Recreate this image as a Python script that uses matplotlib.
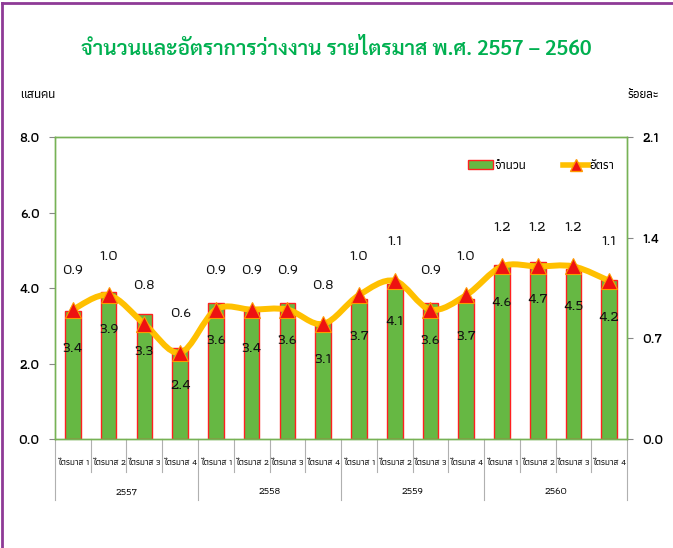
import matplotlib
matplotlib.use("Agg")
import matplotlib.pyplot as plt
import matplotlib.transforms as mtransforms
from matplotlib.lines import Line2D
from matplotlib.patches import Patch, PathPatch
from matplotlib.path import Path
import numpy as np

plt.rcParams["font.family"] = ["Sarabun", "Noto Sans Thai", "DejaVu Sans"]

# data
years = ["2557", "2558", "2559", "2560"]
quarters = ["ไตรมาส 1", "ไตรมาส 2", "ไตรมาส 3", "ไตรมาส 4"]
unemployed = [3.4, 3.9, 3.3, 2.4, 3.6, 3.4, 3.6, 3.1,
              3.7, 4.1, 3.6, 3.7, 4.6, 4.7, 4.5, 4.2]  # แสนคน
rate = [0.9, 1.0, 0.8, 0.6, 0.9, 0.9, 0.9, 0.8,
        1.0, 1.1, 0.9, 1.0, 1.2, 1.2, 1.2, 1.1]  # ร้อยละ
left_ticks = [0.0, 2.0, 4.0, 6.0, 8.0]
right_ticks = [0.0, 0.7, 1.4, 2.1]

GREEN = "#66b843"
AXIS_GREEN = "#77b255"
LINE_COL = "#ffc000"
TITLE_COL = "#00b050"
TITLE_FONT = ["Sarabun", "DejaVu Sans"]
NARROW_FONT = ["Athiti", "Sarabun", "DejaVu Sans"]

x = np.arange(len(unemployed))

fig = plt.figure(figsize=(6.73, 5.48), dpi=100)
ax = fig.add_axes([0.0817, 0.1989, 0.85, 0.5511])
ax2 = ax.twinx()

ax.bar(x, unemployed, width=0.44, color=GREEN, edgecolor="#ff2020", linewidth=1.0, zorder=2)

# smooth line (Excel style) through rate points
pts = np.column_stack([x, rate]).astype(float)
verts = [tuple(pts[0])]
codes = [Path.MOVETO]
for i in range(len(pts) - 1):
    p0 = pts[max(i - 1, 0)]
    p1 = pts[i]
    p2 = pts[i + 1]
    p3 = pts[min(i + 2, len(pts) - 1)]
    c1 = p1 + (p2 - p0) / 6.0
    c2 = p2 - (p3 - p1) / 6.0
    verts += [tuple(c1), tuple(c2), tuple(p2)]
    codes += [Path.CURVE4] * 3
ax2.add_patch(PathPatch(Path(verts, codes), facecolor="none", edgecolor=LINE_COL,
                        linewidth=4.3, capstyle="round", zorder=3))
ax2.plot(x, rate, linestyle="none", marker="^", markersize=11,
         markerfacecolor="#ee1111", markeredgecolor="#ff9900", markeredgewidth=0.8, zorder=4)

# value labels
for xi, v in zip(x, unemployed):
    ax.annotate(f"{v:.1f}", (xi, v), xytext=(0, -27), textcoords="offset points",
                ha="center", va="center", fontsize=11, color="#111111", zorder=5,
                family=NARROW_FONT, fontweight="medium")
for xi, r in zip(x, rate):
    ax2.annotate(f"{r:.1f}", (xi, r), xytext=(0, 28), textcoords="offset points",
                 ha="center", va="center", fontsize=11, color="#111111", zorder=5,
                 family=NARROW_FONT, fontweight="medium")

ax.set_xlim(-0.5, len(x) - 0.5)
ax.set_ylim(0, 8)
ax2.set_ylim(0, 2.1)
ax.set_yticks(left_ticks)
ax.set_yticklabels([f"{t:.1f}" for t in left_ticks], fontsize=10, fontweight="semibold",
                   family=NARROW_FONT)
ax2.set_yticks(right_ticks)
ax2.set_yticklabels([f"{t:.1f}" for t in right_ticks], fontsize=10, fontweight="semibold",
                    family=NARROW_FONT)
ax.set_xticks([])
for a in (ax, ax2):
    for s in a.spines.values():
        s.set_color(AXIS_GREEN)
        s.set_linewidth(1.0)
    a.tick_params(axis="y", direction="out", length=4, color="#888888", pad=7)

# category axis: quarter labels, year labels and separators
trans = mtransforms.blended_transform_factory(ax.transData, ax.transAxes)
for i, xi in enumerate(x):
    ax.text(xi, -0.08, quarters[i % 4], transform=trans, ha="center", va="center",
            fontsize=6.4, color="#111111", family=NARROW_FONT, fontweight="medium")
for j, yr in enumerate(years):
    ax.text(4 * j + 1.5, -0.175, yr, transform=trans, ha="center", va="center",
            fontsize=7.5, color="#111111", family=NARROW_FONT, fontweight="medium")
for b in np.arange(-0.5, len(x), 1.0):
    full = abs((b + 0.5) % 4) < 1e-9
    ax.plot([b, b], [0, -0.203 if full else -0.11], transform=trans, color="#b0b0b0",
            linewidth=0.8, clip_on=False, zorder=1)

# legend
handles = [Patch(facecolor=GREEN, edgecolor="#ff2020", linewidth=1.0),
           Line2D([], [], color=LINE_COL, linewidth=4, marker="^", markersize=9,
                  markerfacecolor="#ee1111", markeredgecolor="#ff9900")]
ax2.legend(handles, ["จำนวน", "อัตรา"], loc="center", bbox_to_anchor=(0.85, 0.905),
           ncol=2, frameon=False, handlelength=2.0, handletextpad=0.1,
           columnspacing=3.0, prop={"family": NARROW_FONT, "size": 9, "weight": "medium"})

# titles
fig.text(0.5, 0.909, "จำนวนและอัตราการว่างงาน รายไตรมาส พ.ศ. 2557 – 2560",
         ha="center", va="center", fontsize=15, color=TITLE_COL, family=TITLE_FONT,
         fontweight="semibold")
fig.text(0.03, 0.827, "แสนคน", ha="left", va="center", fontsize=9, family=NARROW_FONT,
         fontweight="medium")
fig.text(0.98, 0.827, "ร้อยละ", ha="right", va="center", fontsize=9, family=NARROW_FONT,
         fontweight="medium")

# outer border (top and left)
fig.add_artist(Line2D([0.003, 0.003], [0, 0.995], transform=fig.transFigure,
                      color="#8e3a96", linewidth=2))
fig.add_artist(Line2D([0.003, 1], [0.995, 0.995], transform=fig.transFigure,
                      color="#8e3a96", linewidth=2))

fig.savefig("out.png", dpi=100)
